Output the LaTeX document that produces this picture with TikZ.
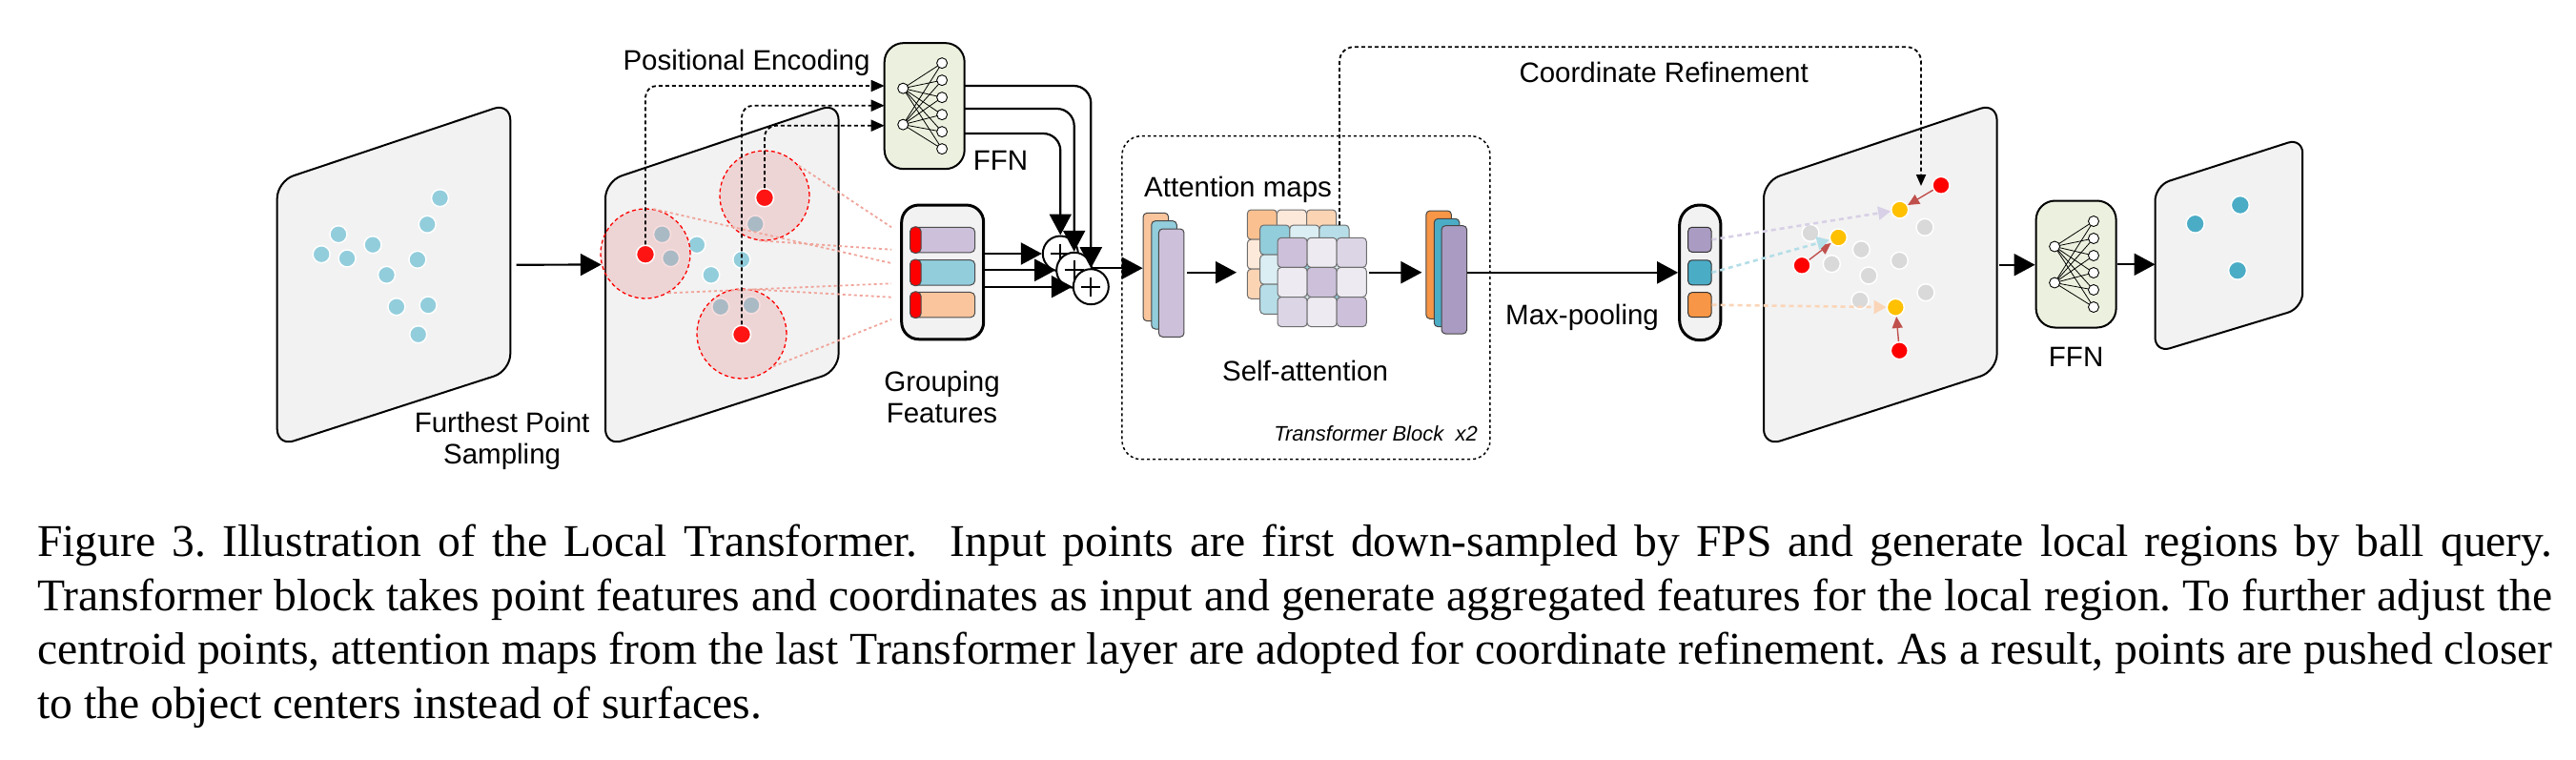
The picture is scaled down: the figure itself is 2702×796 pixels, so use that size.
\documentclass[tikz,border=0pt]{standalone}
\usepackage{fontspec}
\setmainfont{Liberation Serif}
\newfontfamily\labfont{Liberation Sans}
\usetikzlibrary{arrows.meta,calc}

\definecolor{panelgray}{RGB}{242,242,242}
\definecolor{ffngreen}{RGB}{235,241,222}
\definecolor{dotblue}{RGB}{146,205,220}
\definecolor{tealc}{RGB}{75,172,198}
\definecolor{orangec}{RGB}{247,150,70}
\definecolor{purplec}{RGB}{169,155,193}
\definecolor{lavender}{RGB}{204,192,218}
\definecolor{peach}{RGB}{250,197,156}
\definecolor{ballfill}{RGB}{230,140,140}
\definecolor{ballline}{RGB}{240,165,155}
\definecolor{dotred}{RGB}{255,20,20}
\definecolor{dotyellow}{RGB}{255,192,0}
\definecolor{dotgray}{RGB}{217,217,217}
\definecolor{brownr}{RGB}{192,80,77}
\definecolor{lavlight}{RGB}{216,208,230}
\definecolor{bluelight}{RGB}{180,222,232}
\definecolor{peachlight}{RGB}{251,213,184}
\definecolor{cellborder}{RGB}{110,110,110}
\definecolor{pS}{RGB}{250,192,144}
\definecolor{pV}{RGB}{253,233,217}
\definecolor{pM}{RGB}{251,212,180}
\definecolor{bS}{RGB}{146,205,220}
\definecolor{bV}{RGB}{218,238,243}
\definecolor{bM}{RGB}{183,222,232}
\definecolor{uS}{RGB}{204,192,218}
\definecolor{uV}{RGB}{237,234,242}
\definecolor{uM}{RGB}{220,213,230}

\newcommand{\labf}{\labfont\fontsize{29.5}{33.4}\selectfont}
\newcommand{\capf}{\fontsize{47.6}{56.7}\selectfont}

\newcommand{\ffnnet}[1]{%
  \foreach \ly in {-18.5,19.5}{\foreach \ry in {-45,-27,-9,9,27,45}{\draw[line width=0.8pt] ($(#1)+(-22.5,\ly)$) -- ($(#1)+(18.4,\ry)$);}}
  \foreach \ly in {-18.5,19.5}{\filldraw[fill=white,draw=black,line width=0.9pt] ($(#1)+(-22.5,\ly)$) circle[radius=5.5pt];}
  \foreach \ry in {-45,-27,-9,9,27,45}{\filldraw[fill=white,draw=black,line width=0.9pt] ($(#1)+(18.4,\ry)$) circle[radius=5.5pt];}
}
\newcommand{\attgrid}[5]{%
  \foreach \i/\j/\c in {0/0/#3,1/0/#4,2/0/#5,0/1/#4,1/1/#3,2/1/#4,0/2/#5,1/2/#4,2/2/#3}{
    \draw[fill=\c, draw=cellborder, line width=1pt, rounded corners=4pt] ({#1+\i*31.1},{#2+\j*31.1}) rectangle +(31.1,31.1);
  }
}

\begin{document}
\begin{tikzpicture}[x=1pt,y=-1pt,
  panel/.style={draw=black, line width=2pt, fill=panelgray, rounded corners=18pt},
  dotpt/.style={circle, inner sep=0pt, minimum size=18pt, draw=white, line width=1.5pt},
  ball/.style={circle, inner sep=0pt, minimum size=94pt, draw=red, line width=1.3pt, dash pattern=on 4pt off 3pt, fill=ballfill, fill opacity=0.28},
  ballln/.style={draw=ballline, line width=1.8pt, dash pattern=on 3pt off 3pt},
  arr/.style={line width=2.2pt, -{Triangle[length=22pt,width=23pt]}},
  pdot/.style={line width=1.8pt, dash pattern=on 4pt off 3pt, rounded corners=12pt, -{Triangle[length=14pt,width=12pt]}},
  ffnbox/.style={draw, line width=2pt, fill=ffngreen, rounded corners=20pt, minimum width=84pt, minimum height=132pt, inner sep=0pt},
  plus/.style={circle, minimum size=37pt, inner sep=0pt, draw, line width=2pt, fill=white,
    path picture={\draw[line width=1.8pt] ([xshift=-10pt]path picture bounding box.center) -- ([xshift=10pt]path picture bounding box.center) ([yshift=-10pt]path picture bounding box.center) -- ([yshift=10pt]path picture bounding box.center);}},
  barbox/.style={draw=gray!60!black, line width=1pt, rounded corners=5pt, minimum width=67.7pt, minimum height=26.5pt, inner sep=0pt},
  stk/.style={draw=gray!55!black, line width=1pt, rounded corners=4pt, minimum width=26.5pt, minimum height=113.3pt, inner sep=0pt},
  sq/.style={draw=gray!40!black, line width=1pt, rounded corners=4pt, minimum width=24.3pt, minimum height=26pt, inner sep=0pt},
  lab/.style={font=\labf, inner sep=0pt},
  ldash/.style={line width=2.6pt, dash pattern=on 5pt off 4pt},
  brarr/.style={draw=brownr, line width=1.4pt, -{Triangle[length=12pt,width=11pt]}}
]
\useasboundingbox (0,0) rectangle (2702,796);

% ---------- panel 1 : input points ----------
\draw[panel] (290.7,190) -- (535.3,108) -- (535.3,389) -- (290.7,468) -- cycle;
\foreach \x/\y [count=\i] in {461.5/207.7,448.2/235.3,355/245.7,391/256.7,337.2/266.7,364.1/271,437.9/272.3,405.5/288.3,415.9/321.7,449.1/320,438.7/350.7}
  \node[dotpt, fill=dotblue] (pa\i) at (\x,\y) {};
\node[lab, align=center, anchor=north] (tfps) at (526.6,432) {Furthest Point\\Sampling};

% ---------- panel 2 : sampled points and balls ----------
\draw[panel] (635,190) -- (879.6,108) -- (879.6,389) -- (635,468) -- cycle;
\foreach \x/\y [count=\i] in {694.5/245.7,703.6/270.7,730.9/256.7,745.8/288.3,777.8/272.3,792.3/235,755.8/321.7,788.1/320}
  \node[dotpt, fill=dotblue] (pb\i) at (\x,\y) {};
\node[ball] (c1) at (677,266) {};
\node[ball] (c2) at (802,205) {};
\node[ball] (c3) at (778,350) {};
\node[dotpt, fill=dotred, minimum size=19pt] (r1) at (677,266.7) {};
\node[dotpt, fill=dotred, minimum size=19pt] (r2) at (802,207.3) {};
\node[dotpt, fill=dotred, minimum size=19pt] (r3) at (778,350.7) {};

\coordinate (p1e) at (541.5,277.7);
\draw[arr] (p1e) -- (c1.194);

% ball -> grouping lines
\coordinate (g1) at (935,238.3);
\coordinate (g2) at (935,261.7);
\coordinate (g3) at (935,276);
\coordinate (g4) at (935,297.3);
\coordinate (g5) at (935,311.7);
\coordinate (g6) at (935,335);
\draw[ballln] (c2.41) -- (g1);
\draw[ballln] (c2.263) -- (g2);
\draw[ballln] (c1.80) -- (g3);
\draw[ballln] (c1.300) -- (g4);
\draw[ballln] (c3.78) -- (g5);
\draw[ballln] (c3.314) -- (g6);

% ---------- FFN 1 ----------
\node[ffnbox] (ffn1) at (969.7,111.15) {};
\ffnnet{ffn1}
\node[lab, anchor=base west] (tffn1) at (1020.6,178.3) {FFN};
\node[lab, anchor=base west] (tpe) at (653.3,73.3) {Positional Encoding};

\coordinate (fin1) at (927.7,90);
\coordinate (fin2) at (927.7,110.7);
\coordinate (fin3) at (927.7,131.7);
\draw[pdot] (r1.north) |- (fin1);
\draw[pdot] (r3.north) |- (fin2);
\draw[pdot] (r2.north) |- (fin3);

% ---------- grouping features ----------
\node[draw, line width=3pt, fill=panelgray, rounded corners=18pt, minimum width=86pt, minimum height=140.7pt, inner sep=0pt] (gf) at (988.7,285.4) {};
\node[barbox, fill=lavender] (b1) at (988.85,251.65) {};
\node[barbox, fill=dotblue] (b2) at (988.85,285.85) {};
\node[barbox, fill=peach] (b3) at (988.85,319.7) {};
\foreach \b in {b1,b2,b3}
  \draw[fill=red, draw=gray!60!black, line width=1pt, rounded corners=5pt] (\b.north west) rectangle ($(\b.south west)+(11.7,0)$);
\node[lab, align=center, anchor=north] (tgf) at (988,388.5) {Grouping\\Features};

% ---------- plus nodes ----------
\node[plus] (p1) at (1112.3,266) {};
\node[plus] (p2) at (1126.7,283.3) {};
\node[plus] (p3) at (1144.3,300.7) {};
\draw[arr] (gf.east |- p1) -- (p1);
\draw[arr] (gf.east |- p2) -- (p2);
\draw[arr] (gf.east |- p3) -- (p3);
\coordinate (fo1) at (1011.7,90);
\coordinate (fo2) at (1011.7,114);
\coordinate (fo3) at (1011.7,140);
\draw[arr, rounded corners=18pt] (fo1) -| (p3);
\draw[arr, rounded corners=18pt] (fo2) -| (p2);
\draw[arr, rounded corners=18pt] (fo3) -| (p1);

% ---------- transformer block ----------
\node[draw, line width=1.5pt, dash pattern=on 3pt off 3pt, rounded corners=20pt, minimum width=386pt, minimum height=339pt, inner sep=0pt] (tb) at (1369.95,312.2) {};
\node[font=\labfont\itshape\fontsize{22}{26}\selectfont, inner sep=0pt, anchor=base east] (ttb) at (1550,462.7) {Transformer Block~~x2};
\node[lab, anchor=base west] (tam) at (1200,206.7) {Attention maps};
\node[lab, anchor=base] (tsa) at (1369,399.5) {Self-attention};

\node[stk, fill=peach] (sA) at (1212.35,280) {};
\node[stk, fill=dotblue] (sB) at (1221,288.35) {};
\node[stk, fill=lavender] (sC) at (1228.7,296.65) {};
\draw[arr] (p3.north) -- (p3.north -| sA.west);

\attgrid{1308.3}{220}{pS}{pV}{pM}
\attgrid{1321.7}{236}{bS}{bV}{bM}
\attgrid{1340}{249.3}{uS}{uV}{uM}
\coordinate (gin) at (1297,285.7);
\coordinate (gout) at (1436,285.7);
\draw[arr] ([xshift=3pt]sC.east |- gin) -- (gin);

\node[stk, fill=orangec] (tA) at (1509.15,277.65) {};
\node[stk, fill=tealc] (tB) at (1517.5,286) {};
\node[stk, fill=purplec] (tC) at (1525.3,293.35) {};
\draw[arr] (gout) -- ([xshift=-4pt]tA.west |- gout);

% ---------- max pooling ----------
\node[draw, line width=3pt, fill=panelgray, rounded corners=21pt, minimum width=43.3pt, minimum height=141.7pt, inner sep=0pt] (mp) at (1783.3,285.85) {};
\node[sq, fill=purplec] (m1) at (1782.85,251.3) {};
\node[sq, fill=tealc] (m2) at (1782.85,285.85) {};
\node[sq, fill=orangec] (m3) at (1782.85,319.7) {};
\draw[arr] (tC.east |- mp.west) -- (mp.west);
\node[lab, anchor=base west] (tmp) at (1579,340.5) {Max-pooling};

% ---------- panel 3 : refinement ----------
\draw[panel] (1850,190) -- (2094.6,108) -- (2094.6,389) -- (1850,468) -- cycle;
\foreach \x/\y [count=\i] in {1899/244.3,1921.3/276.7,1952.3/261.7,1960/289,1992.3/273.3,2019/238.3,2020/306.7,1951/315}
  \node[dotpt, fill=dotgray] (pg\i) at (\x,\y) {};
\node[dotpt, fill=dotyellow] (y1) at (1992.7,220) {};
\node[dotpt, fill=dotyellow] (y2) at (1928.3,249) {};
\node[dotpt, fill=dotyellow] (y3) at (1988.3,322.3) {};
\node[dotpt, fill=red] (rd1) at (2036,194.3) {};
\node[dotpt, fill=red] (rd2) at (1890,278.3) {};
\node[dotpt, fill=red] (rd3) at (1992.3,367.7) {};
\draw[brarr] (rd1) -- (y1);
\draw[brarr] (rd2) -- (y2);
\draw[brarr] (rd3) -- (y3);
\draw[ldash, draw=lavlight, -{Triangle[length=13pt,width=14pt]}] (m1.east) -- (y1);
\draw[ldash, draw=bluelight, -{Triangle[length=13pt,width=14pt]}] (m2.east) -- (y2);
\draw[ldash, draw=peachlight, -{Triangle[length=13pt,width=14pt]}] (m3.east) -- (y3);

% coordinate refinement line (from attention maps to refined points)
\coordinate (cr0) at (1405,236);
\coordinate (crc) at (2015,49.3);
\coordinate (cre) at (2015,195);
\draw[line width=1.8pt, dash pattern=on 4pt off 3pt, rounded corners=15pt, -{Triangle[length=12pt,width=10pt]}] (cr0) |- (crc) -- (cre);
\node[lab, anchor=base west] (tcr) at (1593.3,86) {Coordinate Refinement};

% ---------- FFN 2 ----------
\node[ffnbox, minimum height=133pt] (ffn2) at (2177.6,277) {};
\ffnnet{ffn2}
\node[lab, anchor=base] (tffn2) at (2177.6,384) {FFN};
\coordinate (p3e) at (2096.7,277.7);
\draw[arr] (p3e) -- (p3e -| ffn2.west);

% ---------- panel 4 : output ----------
\draw[panel, rounded corners=16pt] (2260.5,194.5) -- (2415.2,144.7) -- (2415.2,323.1) -- (2260.5,369.9) -- cycle;
\coordinate (p4w) at (2260.5,277.3);
\draw[arr] (ffn2.east |- p4w) -- (p4w);
\foreach \x/\y [count=\i] in {2302.6/234.7,2349.8/215,2347/283.7}
  \node[dotpt, fill=tealc, minimum size=19pt] (pc\i) at (\x,\y) {};

% ---------- caption ----------
\node[anchor=north west, inner sep=0pt, text width=2638pt, font=\capf, align=justify] (cap) at (39,543.6) {\frenchspacing\strut Figure 3. Illustration of the Local Transformer.\ \ Input points are first down-sampled by FPS and generate local regions by ball query.\linebreak Transformer block takes point features and coordinates as input and generate aggregated features for the local region. To further adjust the\linebreak centroid points, attention maps from the last Transformer layer are adopted for coordinate refinement. As a result, points are pushed closer\linebreak to the object centers instead of surfaces.};
\end{tikzpicture}
\end{document}
